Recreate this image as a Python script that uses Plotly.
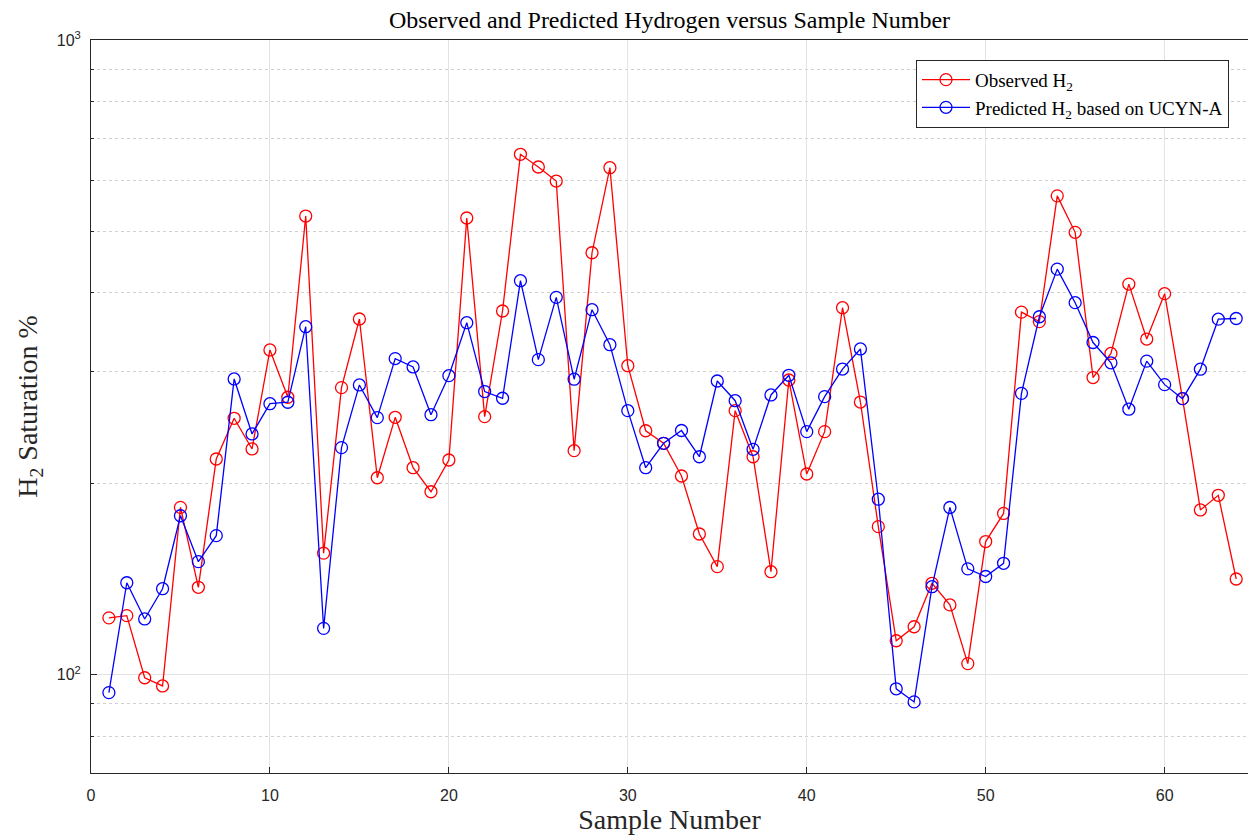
import plotly.graph_objects as go

# Sample index and hydrogen saturation (%) per sample
samples = list(range(1, 65))

observed_h2 = [
    122.9, 123.9, 98.9, 96.0, 183.5, 137.3, 218.7, 253.5, 226.8, 324.8,
    273.6, 528.0, 155.4, 283.3, 363.4, 204.3, 254.4, 211.9, 194.2, 217.9,
    524.3, 255.0, 374.1, 660.5, 630.8, 599.5, 225.4, 462.2, 629.2, 306.8,
    242.3, 231.5, 205.6, 166.6, 148.0, 260.6, 220.5, 145.3, 291.3, 207.1,
    241.5, 378.6, 268.9, 171.1, 113.1, 119.0, 139.3, 128.8, 104.1, 162.1,
    179.5, 372.6, 360.0, 568.1, 497.7, 293.9, 320.7, 412.5, 337.9, 398.4,
    272.2, 181.8, 191.7, 141.5,
]

predicted_h2 = [
    93.7, 139.6, 122.4, 136.6, 178.0, 150.7, 165.6, 292.4, 239.5, 267.3,
    268.7, 353.4, 118.3, 227.9, 286.1, 254.1, 314.8, 305.4, 256.8, 295.9,
    358.6, 279.3, 272.6, 417.6, 313.6, 393.1, 292.1, 375.9, 331.1, 260.6,
    211.9, 231.5, 242.5, 220.5, 290.2, 270.2, 226.5, 275.9, 296.3, 241.5,
    274.2, 303.1, 326.0, 189.0, 95.0, 90.6, 137.6, 183.4, 146.8, 142.8,
    149.8, 277.5, 366.4, 435.5, 385.6, 333.7, 310.0, 262.0, 311.9, 286.4,
    272.2, 302.9, 363.2, 364.1,
]

x_ticks = [0, 10, 20, 30, 40, 50, 60]
y_major = [100, 1000]
y_major_text = ["10<sup>2</sup>", "10<sup>3</sup>"]
y_minor = [80, 90, 200, 300, 400, 500, 600, 700, 800, 900]

SERIF = "Liberation Serif"
SANS = "Liberation Sans"
AXIS_COLOR = "#262626"

fig = go.Figure()

fig.add_trace(go.Scatter(
    x=samples, y=observed_h2, mode="lines+markers",
    name="Observed H<sub>2</sub>",
    line=dict(color="#ff0000", width=1.3),
    marker=dict(symbol="circle-open", size=12, color="#ff0000",
                line=dict(width=1.3, color="#ff0000")),
))

fig.add_trace(go.Scatter(
    x=samples, y=predicted_h2, mode="lines+markers",
    name="Predicted H<sub>2</sub> based on UCYN-A",
    line=dict(color="#0000ff", width=1.3),
    marker=dict(symbol="circle-open", size=12, color="#0000ff",
                line=dict(width=1.3, color="#0000ff")),
))

fig.update_layout(
    width=1248, height=839,
    margin=dict(l=91, r=0, t=40, b=66),
    paper_bgcolor="white", plot_bgcolor="white",
    showlegend=True,
    title=dict(
        text="Observed and Predicted Hydrogen versus Sample Number",
        x=(91 + 1248) / 2 / 1248, xanchor="center",
        y=1 - 20 / 839, yanchor="middle",
        font=dict(family=SERIF, size=24, color="black"),
    ),
    legend=dict(
        x=(916 - 91) / (1248 - 91), y=0.973, xanchor="left", yanchor="top",
        bgcolor="white", bordercolor="#262626", borderwidth=1,
        font=dict(family=SERIF, size=19, color="black"),
        tracegroupgap=0, itemwidth=48,
    ),
)

fig.update_xaxes(
    range=[0, 64.66], tickvals=x_ticks,
    ticks="inside", ticklen=6, tickcolor=AXIS_COLOR, tickwidth=1,
    showline=True, linecolor=AXIS_COLOR, linewidth=1, mirror=True,
    showgrid=True, gridcolor="#e3e3e3", gridwidth=1,
    zeroline=False,
    tickfont=dict(family=SANS, size=16, color=AXIS_COLOR),
    ticklabelstandoff=8,
    title=dict(text="Sample Number", standoff=6,
               font=dict(family=SERIF, size=28, color=AXIS_COLOR)),
)

fig.update_yaxes(
    type="log", range=[1.845098, 3],
    tickvals=y_major, ticktext=y_major_text,
    ticks="inside", ticklen=6, tickcolor=AXIS_COLOR, tickwidth=1,
    showline=True, linecolor=AXIS_COLOR, linewidth=1, mirror=False,
    showgrid=True, gridcolor="#e3e3e3", gridwidth=1,
    zeroline=False,
    tickfont=dict(family=SANS, size=16, color=AXIS_COLOR),
    ticklabelstandoff=6,
    minor=dict(tickvals=y_minor, ticks="inside", ticklen=3,
               tickcolor=AXIS_COLOR, showgrid=True,
               gridcolor="#d0d0d0", griddash="dot", gridwidth=1),
    title=dict(text="H<sub>2</sub> Saturation %", standoff=10,
               font=dict(family=SERIF, size=28, color=AXIS_COLOR)),
)

fig.write_html("out.html")
